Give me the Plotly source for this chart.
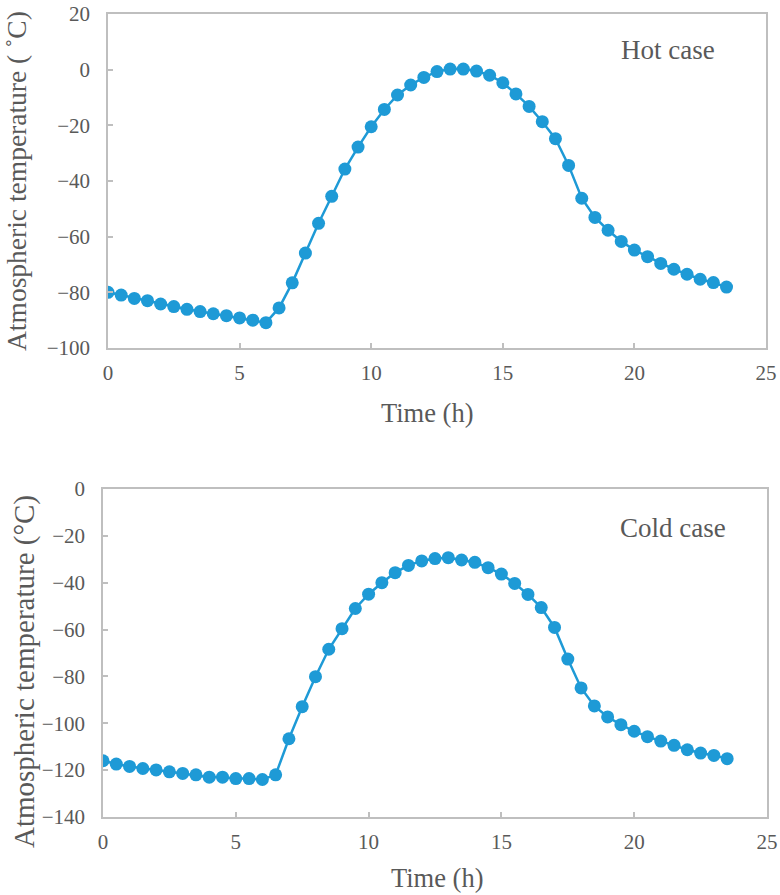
import plotly.graph_objects as go

time_h = [i * 0.5 for i in range(48)]

hot_case = [-80, -81, -82.2, -83, -84.2, -85.1, -86.1, -86.9, -87.7, -88.4, -89.2, -90, -90.9,
            -85.6, -76.6, -65.9, -55.2, -45.5, -35.7, -27.8, -20.5, -14.3, -9.1, -5.5, -2.8,
            -0.7, 0.2, 0.2, -0.5, -2.0, -4.7, -8.7, -13.2, -18.7, -24.8, -34.4, -46.2, -53.1,
            -57.7, -61.7, -64.8, -67.2, -69.6, -71.7, -73.5, -75.3, -76.5, -78.1]

cold_case = [-116, -117.4, -118.4, -119.3, -119.9, -120.7, -121.4, -122, -123, -123, -123.6,
             -123.6, -124, -122, -106.6, -92.9, -80.1, -68.4, -59.6, -51, -44.9, -40, -35.7,
             -32.6, -30.7, -29.7, -29.3, -30.3, -31.3, -33.6, -36.3, -40.3, -45, -50.6, -59.1,
             -72.6, -84.9, -92.6, -97.3, -100.6, -103.4, -105.7, -107.6, -109.4, -111.3,
             -112.7, -113.7, -115.1]

x_ticks = [0, 5, 10, 15, 20, 25]
hot_y_ticks = [20, 0, -20, -40, -60, -80, -100]
cold_y_ticks = [0, -20, -40, -60, -80, -100, -120, -140]

W, H = 780, 895
BLUE = "#1E9AD6"
GREY_TXT = "#595959"
FRAME = "#BFBFBF"
FONT = "Liberation Serif"


def px(x):
    return x / W


def py(y):
    return 1 - y / H


fig = go.Figure()
fig.add_trace(go.Scatter(x=time_h, y=hot_case, mode="lines+markers",
                         line=dict(color=BLUE, width=2.5),
                         marker=dict(color=BLUE, size=13),
                         xaxis="x", yaxis="y", showlegend=False))
fig.add_trace(go.Scatter(x=time_h, y=cold_case, mode="lines+markers",
                         line=dict(color=BLUE, width=2.5),
                         marker=dict(color=BLUE, size=13),
                         xaxis="x2", yaxis="y2", showlegend=False))


def xax(domain, anchor):
    return dict(domain=domain, anchor=anchor, range=[0, 25], tickvals=x_ticks,
                showline=True, mirror=True, linecolor=FRAME, linewidth=1.5,
                ticks="inside", ticklen=5, tickcolor=FRAME, tickwidth=1.5,
                showgrid=False, zeroline=False, automargin=False,
                ticklabelstandoff=5,
                tickfont=dict(family=FONT, size=21, color=GREY_TXT))


def yax(domain, anchor, rng, vals):
    return dict(domain=domain, anchor=anchor, range=rng, tickvals=vals,
                ticktext=[("−" + str(-v)) if v < 0 else str(v) for v in vals],
                showline=True, mirror=True, linecolor=FRAME, linewidth=1.5,
                ticks="inside", ticklen=5, tickcolor=FRAME, tickwidth=1.5,
                showgrid=False, zeroline=False, automargin=False,
                ticklabelstandoff=12,
                tickfont=dict(family=FONT, size=21, color=GREY_TXT))


def ann(text, x, y, size, angle=0):
    return dict(text=text, x=px(x), y=py(y), xref="paper", yref="paper",
                xanchor="center", yanchor="middle", textangle=angle,
                showarrow=False, font=dict(family=FONT, size=size, color=GREY_TXT))


fig.update_layout(
    width=W, height=H,
    margin=dict(l=0, r=0, t=0, b=0, pad=0, autoexpand=False),
    paper_bgcolor="white", plot_bgcolor="white",
    xaxis=xax([px(108), px(766)], "y"),
    yaxis=yax([py(348), py(14)], "x", [-100, 20], hot_y_ticks),
    xaxis2=xax([px(103), px(767)], "y2"),
    yaxis2=yax([py(817), py(489)], "x2", [-140, 0], cold_y_ticks),
    annotations=[
        ann("Hot case", 668, 50, 27),
        ann("Cold case", 673, 528, 27),
        ann("Time (h)", 427, 413, 26.5),
        ann("Time (h)", 437, 878, 26.5),
        ann("Atmospheric temperature ( ˚C)", 16, 181, 27.5, -90),
        ann("Atmospheric temperature (°C)", 24, 672, 29, -90),
    ],
)

fig.write_html(
    "out.html",
    config={"displayModeBar": False},
    post_script="document.body.style.margin='0';document.body.style.overflow='hidden';",
)
